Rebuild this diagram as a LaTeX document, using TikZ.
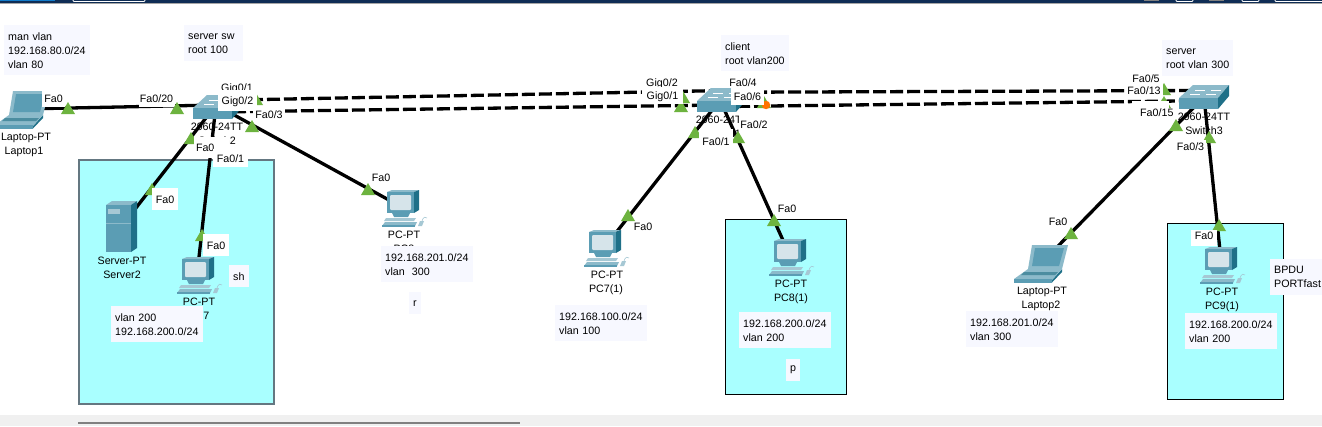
\documentclass[tikz,border=0pt]{standalone}
\usepackage{fontspec}
\setmainfont{Liberation Sans}
\definecolor{navy}{HTML}{0F2D55}
\definecolor{cyanbox}{HTML}{A9FFFF}
\definecolor{notefill}{HTML}{F7F8FF}
\definecolor{lightg}{HTML}{6DB33F}
\definecolor{iconfront}{HTML}{5B9DB4}
\definecolor{icondark}{HTML}{1F7088}
\definecolor{icontop}{HTML}{8CBACA}
\definecolor{iconscreen}{HTML}{D6E4EA}
\definecolor{iconpale}{HTML}{A6C8D4}
\tikzset{
  txt/.style={font=\fontsize{10.7}{14}\selectfont,text=black,inner sep=0pt,text height=8pt,text depth=0pt},
  plab/.style={txt,fill=white},
  notebox/.style={font=\fontsize{10.7}{14}\selectfont,text=black,fill=notefill,inner xsep=4pt,inner ysep=0pt,align=left,anchor=north west},
  cyanarea/.style={fill=cyanbox,draw=black,line width=1pt},
  link/.style={draw=black,line width=3.3pt},
  trunk/.style={link,dash pattern=on 13pt off 4pt},
  dev/.style={inner sep=0pt,minimum size=2pt},
  pcicon/.pic={
    \fill[icontop] (0,2)--(5,0)--(32,0)--(27,2)--cycle;
    \fill[icondark] (27,2)--(32,0)--(32,20)--(27,23)--cycle;
    \fill[iconfront] (0,2) rectangle (27,23);
    \fill[iconscreen,rounded corners=1pt] (3,5) rectangle (24,20);
    \fill[iconfront] (5,23)--(23,23)--(21,27)--(7,27)--cycle;
    \fill[iconpale] (-1,28)--(29,28)--(27,31)--(-3,31)--cycle;
    \fill[icontop] (-5,36)--(-2,32)--(30,32)--(28,36)--cycle;
    \fill[iconfront] (-5,35) rectangle (28,36.5);
    \fill[iconpale] (31,36)--(33,31)--(37,31)--(35,36)--cycle;
    \draw[iconpale,line width=.6pt] (35,31) .. controls (36,27) and (39,26) .. (40,28);
  },
  laptopicon/.pic={
    \fill[icontop] (18,0)--(54,0)--(48,24)--(14,24)--cycle;
    \fill[iconfront] (21,3)--(50,3)--(45,21)--(18,21)--cycle;
    \fill[icondark] (38,35)--(48,24)--(48,27)--(38,37.5)--cycle;
    \fill[icontop] (0,34)--(14,24)--(48,24)--(38,35)--cycle;
    \fill[icondark!80!white] (10,27)--(44,27)--(41,30)--(7,30)--cycle;
    \fill[iconfront] (0,34) rectangle (38,37.5);
  },
  switchicon/.pic={
    \fill[icontop] (0,13)--(14,0)--(50,0)--(39,13)--cycle;
    \fill[iconfront] (0,13) rectangle (39,24);
    \fill[icondark] (39,13)--(50,0)--(50,11)--(39,24)--cycle;
    \draw[white,line width=.7pt] (16,5)--(26,5) (32,5)--(42,5) (11,9)--(21,9) (27,9)--(37,9);
  },
  servericon/.pic={
    \fill[icontop] (0,4)--(6,0)--(31,0)--(25,4)--cycle;
    \fill[icondark] (25,4)--(31,0)--(31,47)--(25,51)--cycle;
    \fill[iconfront] (0,4) rectangle (25,51);
    \fill[iconpale] (2,8) rectangle (14,13);
    \draw[icontop,line width=.5pt] (0,22)--(25,22);
  }
}
\newcommand{\plab}[6]{\node[plab,minimum width=#4pt,minimum height=#5pt] (#1) at (#2,#3) {#6};}
\newcommand{\tlab}[4]{\node[txt] (#1) at (#2,#3) {#4};}
\newcommand{\lt}[2]{\fill[lightg] (#1-7,#2+12)--(#1+7,#2+12)--(#1,#2)--cycle;}
\newcommand{\nte}[6]{\node[notebox,minimum width={(#4-#2)*1pt},minimum height={(#5-#3)*1pt},text width={(#4-#2-8)*1pt}] (#1) at (#2,#3) {#6};}
\begin{document}
\begin{tikzpicture}[x=1pt,y=-1pt]
\useasboundingbox (0,0) rectangle (1322,426);
\fill[white] (0,0) rectangle (1322,426);
% window chrome
\fill[navy] (0,0) rectangle (1322,3.2);
\fill[gray!70] (0,3.2) rectangle (1322,4);
\fill[cyan!60!blue] (0,0) rectangle (55,1.2);
\draw[white,line width=.8pt,rounded corners=1pt] (73,-2) -- (73,1.5) -- (145,1.5) -- (145,-2);
\draw[white,line width=.8pt,rounded corners=1pt] (1176,-2) -- (1176,1.5) -- (1193,1.5) -- (1193,-2);
\draw[white,line width=.8pt,rounded corners=1pt] (1242,-2) -- (1242,1.5) -- (1259,1.5) -- (1259,-2);
\draw[white,line width=.8pt,rounded corners=1pt] (1275,-2) -- (1275,1.5) -- (1323,1.5);
\fill[gray] (1144,0) rectangle (1159,1);
\fill[gray] (1209,0) rectangle (1224,1);
\fill[black!6] (0,415) rectangle (1322,426);
\fill[black!50] (78,421.5) rectangle (520,424);
% cyan areas
\draw[cyanarea,draw=black!60!cyan!60!gray,line width=1.3pt] (79,160) rectangle (274,404);
\draw[cyanarea] (725.5,219.5) rectangle (846,394);
\draw[cyanarea] (1167.5,223.5) rectangle (1283,399);
% device anchors
\node[dev] (lap1) at (22,109) {};
\node[dev] (sw1) at (216,105) {};
\node[dev] (srv) at (121.5,226.5) {};
\node[dev] (pcsh) at (197,275) {};
\node[dev] (pcr) at (403.5,208) {};
\node[dev] (sw2) at (720,100) {};
\node[dev] (pc7) at (604,248) {};
\node[dev] (pc8) at (790.5,257) {};
\node[dev] (sw3) at (1204,97) {};
\node[dev] (lap2) at (1041,263.5) {};
\node[dev] (pc9) at (1221.5,265) {};
% links
\draw[link] (lap1) -- (sw1);
\draw[link] (sw1) -- (srv);
\draw[link] (sw1) -- (pcsh);
\draw[link] (sw1) -- (pcr);
\draw[link] (sw2) -- (pc7);
\draw[link] (sw2) -- (pc8);
\draw[link] (sw3) -- (lap2);
\draw[link] (sw3) -- (pc9);
\draw[trunk] ([yshift=4.6pt]sw1.center) -- ([yshift=9.4pt]sw2.center);
\draw[trunk] ([yshift=-7pt]sw1.center) -- ([yshift=-5pt]sw2.center);
\draw[trunk] ([yshift=7.7pt]sw2.center) -- ([yshift=6.5pt]sw3.center);
\draw[trunk] ([yshift=-6.6pt]sw2.center) -- ([yshift=-3.7pt]sw3.center);
% icons
\pic at (-5,91) {laptopicon};
\pic at (1014,245) {laptopicon};
\pic at (193,95) {switchicon};
\pic at (697,88) {switchicon};
\pic at (1179,85) {switchicon};
\pic at (106,201) {servericon};
\pic at (182,257) {pcicon};
\pic at (387,190) {pcicon};
\pic at (589,230) {pcicon};
\pic at (774,239) {pcicon};
\pic at (1205,247) {pcicon};
% device labels
\tlab{n1a}{26}{136}{Laptop-PT}
\tlab{n1b}{24}{150}{Laptop1}
\tlab{n2a}{217}{126}{2960-24TT}
\tlab{n2b}{217}{140}{Switch2}
\tlab{n3a}{122}{260}{Server-PT}
\tlab{n3b}{122}{274}{Server2}
\tlab{n4a}{199}{301}{PC-PT}
\tlab{n4b}{199}{315}{PC7}
\tlab{n5a}{404}{234}{PC-PT}
\tlab{n5b}{404}{248}{PC8}
\tlab{n6a}{722}{119}{2960-24TT}
\tlab{n6b}{722}{133}{Switch1}
\tlab{n7a}{607}{274}{PC-PT}
\tlab{n7b}{606}{288}{PC7(1)}
\tlab{n8a}{791}{283}{PC-PT}
\tlab{n8b}{791}{297}{PC8(1)}
\tlab{n9a}{1204}{116}{2960-24TT}
\tlab{n9b}{1204}{130}{Switch3}
\tlab{n10a}{1042}{290}{Laptop-PT}
\tlab{n10b}{1041}{304}{Laptop2}
\tlab{n11a}{1222}{291}{PC-PT}
\tlab{n11b}{1222}{305}{PC9(1)}
% link lights below port labels
\lt{191}{132}
\lt{252}{120}
\lt{256}{93}
\lt{152}{183}
\lt{202}{229}
\lt{368}{183}
\lt{683}{91}
\lt{681}{100}
\lt{764}{96}
\fill[orange!90!red] (766,105) circle (4.2);
\lt{695}{126}
\lt{738}{131}
\lt{628}{209}
\lt{774}{214}
\lt{1164}{83}
\lt{1164}{96}
\lt{1176}{119}
\lt{1209}{131}
\lt{1071}{227}
\lt{1219}{219}
% port labels
\plab{p1}{53.5}{98}{23}{17}{Fa0}
\plab{p2}{156.5}{98}{36}{17}{Fa0/20}
\tlab{p3}{237}{87}{Gig0/1}
\plab{p4}{237.5}{100.5}{39}{21}{Gig0/2}
\plab{p5}{269}{114.5}{32}{15}{Fa0/3}
\plab{p6}{211.5}{147.5}{35}{21}{\hbox to 31pt{Fa0\hss}}
\plab{p7}{230.5}{158}{35}{18}{Fa0/1}
\plab{p8}{165}{199}{26}{22}{Fa0}
\plab{p9}{216}{245}{26}{22}{Fa0}
\tlab{p10}{381}{177}{Fa0}
\tlab{p11}{662}{82}{Gig0/2}
\plab{p12}{662.5}{95.5}{41}{17}{Gig0/1}
\tlab{p13}{743}{82}{Fa0/4}
\plab{p14}{747.5}{96}{33}{18}{Fa0/6}
\plab{p15}{754}{122.5}{30}{21}{\raisebox{-1.5pt}{Fa0/2}}
\plab{p16}{716}{139}{34}{21}{\raisebox{-2pt}{Fa0/1}}
\tlab{p17}{643}{226}{Fa0}
\tlab{p18}{787}{208}{Fa0}
\tlab{p19}{1146}{78}{Fa0/5}
\plab{p20}{1144}{90.5}{38}{15}{Fa0/13}
\plab{p21}{1150}{112}{37}{22}{\hbox to 37pt{\hss Fa0/15\kern-5pt}}
\plab{p22}{1190.5}{146}{31}{12}{Fa0/3}
\tlab{p23}{1058}{221}{Fa0}
\plab{p24}{1204}{238}{26}{16}{\raisebox{3pt}{Fa0}}
% lights drawn over labels
\lt{68}{102}
\lt{177}{102}
% notes
\nte{t1}{4}{25}{90}{75}{man vlan\\192.168.80.0/24\\vlan 80}
\nte{t2}{184}{25}{243}{61}{server sw\\root 100}
\nte{t3}{721}{35}{789}{71}{client\\\mbox{root vlan200}}
\nte{t4}{1162}{40}{1233}{76}{server\\\mbox{root vlan 300}}
\nte{t5}{111}{306}{203}{342}{vlan 200\\192.168.200.0/24}
\nte{t6}{229}{265}{249}{287}{sh}
\nte{t7}{381}{246}{473}{282}{192.168.201.0/24\\vlan\ \ 300}
\nte{t8}{409}{292}{421}{314}{r}
\nte{t9}{555}{305}{647}{341}{192.168.100.0/24\\vlan 100}
\nte{t10}{739}{312}{831}{348}{192.168.200.0/24\\vlan 200}
\nte{t11}{786}{359}{800}{381}{p}
\nte{t12}{966}{311}{1058}{347}{192.168.201.0/24\\vlan 300}
\nte{t13}{1185}{313}{1277}{349}{192.168.200.0/24\\vlan 200}
\nte{t14}{1270}{259}{1322}{295}{BPDU\\\mbox{PORTfast}}
\end{tikzpicture}
\end{document}
